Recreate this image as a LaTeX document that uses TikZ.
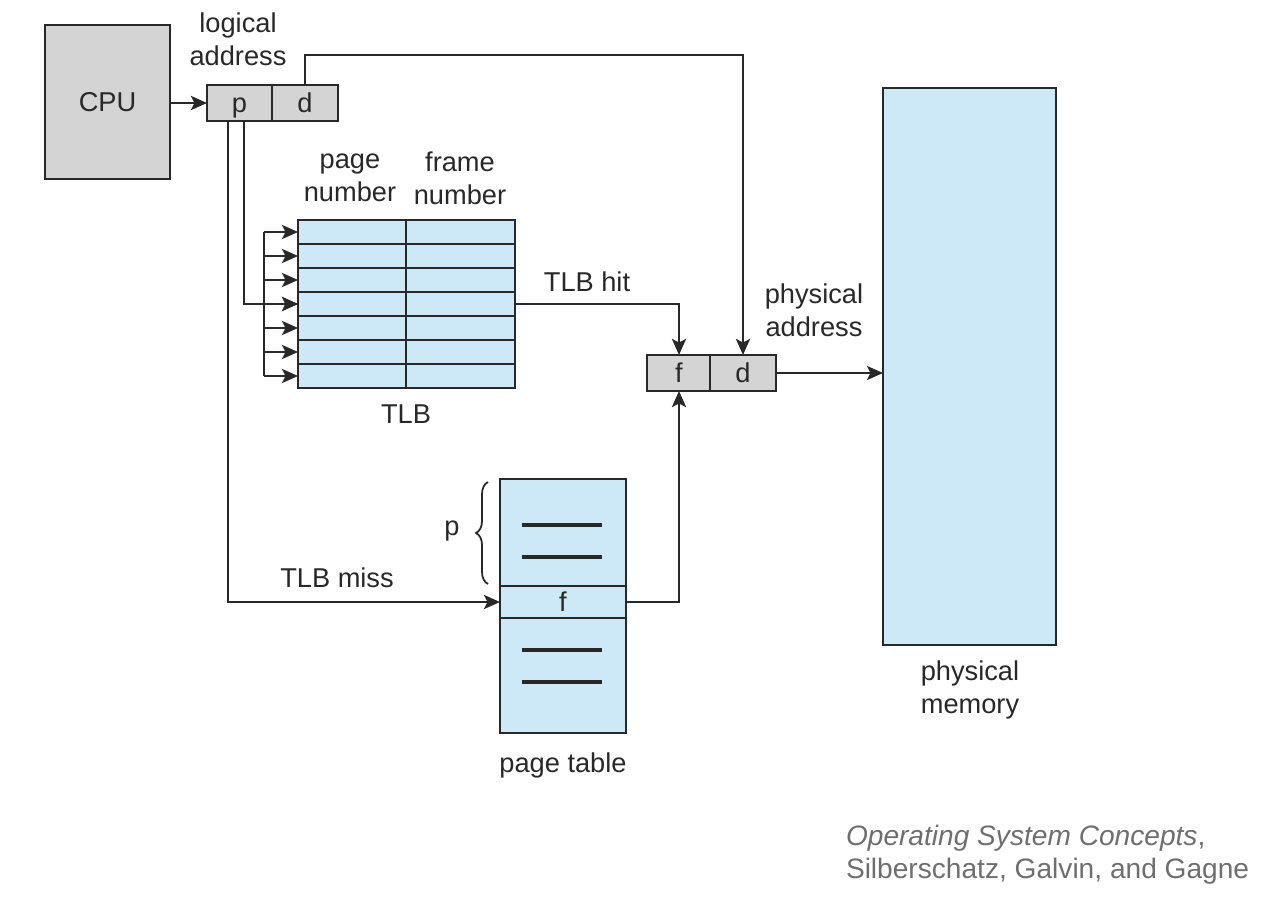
\documentclass[tikz,border=0pt]{standalone}
\usepackage{fontspec}
\setmainfont{Liberation Sans}
\usetikzlibrary{arrows.meta,decorations.pathreplacing}
\definecolor{boxgray}{RGB}{212,212,212}
\definecolor{lblue}{RGB}{205,232,247}
\definecolor{ink}{RGB}{40,40,40}
\definecolor{capgray}{RGB}{110,110,110}
\begin{document}
\begin{tikzpicture}[x=0.02cm,y=-0.02cm,
  every node/.style={font=\fontsize{15.5}{18.7}\selectfont, text=ink, inner sep=0pt, outer sep=0pt},
  boxtext/.style={text height=13pt, text depth=2pt},
  graybox/.style={draw=ink, line width=1.3pt, fill=boxgray, boxtext},
  bluebox/.style={draw=ink, line width=1.3pt, fill=lblue},
  arr/.style={draw=ink, line width=1.6pt, -{Stealth[length=3.2mm,width=2.8mm,inset=0.7mm]}},
  wire/.style={draw=ink, line width=1.6pt},
  lbl/.style={align=center}
]
\useasboundingbox (0,0) rectangle (1268,902);

% CPU
\node[graybox, minimum width=2.5cm, minimum height=3.08cm] (cpu) at (107.5,102) {CPU};

% logical address
\node[graybox, minimum width=1.3cm, minimum height=0.72cm] (lp) at (239.5,103) {p};
\node[graybox, minimum width=1.32cm, minimum height=0.72cm] (ld) at (305,103) {d};
\node[lbl] (lalabel) at (238,39) {logical\\address};

% TLB
\foreach \i in {1,...,7}{
  \node[bluebox, minimum width=4.34cm, minimum height=0.48cm] (r\i) at (406.5,{232+24*(\i-1)}) {};
}
\coordinate (divtop) at (406,220);
\coordinate (divbot) at (406,388);
\draw[draw=ink, line width=1.3pt] (divtop) -- (divbot);
\node[lbl] (pnlabel) at (350,178) {page\\number};
\node[lbl] (fnlabel) at (460,178) {frame\\number};
\node (tlblabel) at (406,414) {TLB};

% bus into TLB
\coordinate (busx) at (264,0);
\draw[wire] (r1.west -| busx) -- (r7.west -| busx);
\foreach \i in {1,...,7}{
  \draw[arr] (r\i.west -| busx) -- (r\i.west);
}

% physical address
\node[graybox, minimum width=1.28cm, minimum height=0.72cm] (af) at (679,373) {f};
\node[graybox, minimum width=1.32cm, minimum height=0.72cm] (ad) at (743,373) {d};
\node[lbl] (palabel) at (814,310) {physical\\address};

% physical memory
\node[bluebox, minimum width=3.46cm, minimum height=11.14cm] (mem) at (969.5,366.5) {};
\node[lbl] (pmlabel) at (970,690) {physical\\memory};

% page table
\node[bluebox, minimum width=2.52cm, minimum height=5.08cm] (pt) at (563,606) {};
\node[bluebox, boxtext, minimum width=2.52cm, minimum height=0.64cm] (pf) at (563,602) {f};
\coordinate (l1a) at (522,525); \coordinate (l1b) at (602,525);
\coordinate (l2a) at (522,557); \coordinate (l2b) at (602,557);
\coordinate (l3a) at (522,650); \coordinate (l3b) at (602,650);
\coordinate (l4a) at (522,682); \coordinate (l4b) at (602,682);
\draw[wire, line width=1.8pt] (l1a) -- (l1b);
\draw[wire, line width=1.8pt] (l2a) -- (l2b);
\draw[wire, line width=1.8pt] (l3a) -- (l3b);
\draw[wire, line width=1.8pt] (l4a) -- (l4b);
\node (ptlabel) at (563,765) {page table};

% brace
\coordinate (bra) at (488,584);
\coordinate (brb) at (488,482);
\draw[draw=ink, line width=1pt, decorate, decoration={brace, amplitude=0.24cm}] (bra) -- (brb);
\node (plabel) at (452,531) {p};

% d line from logical to physical address
\coordinate (dcorner) at (743,55);
\draw[arr] (ld.north) |- (dcorner) -- (ad.north);

% CPU to logical address
\draw[arr] (cpu.east |- lp) -- (lp.west);

% TLB lookup (p to row)
\coordinate (hx) at (244,304);
\draw[arr] (lp.south -| hx) -- (hx) -- (r4.west);

% TLB miss
\coordinate (mx) at (228,602);
\draw[arr] (lp.south -| mx) -- (mx) -- (pf.west);
\node (misslabel) at (337,578) {TLB miss};

% TLB hit
\draw[arr] (r4.east) -| (af.north);
\node (hitlabel) at (587,282) {TLB hit};

% page table to frame
\draw[arr] (pf.east) -| (af.south);

% physical address to memory
\draw[arr] (ad.east) -- (mem.west |- ad.east);

% caption
\node[anchor=west, align=left, text=capgray, font=\fontsize{16}{19}\selectfont] (cap) at (846,855) {\textit{Operating System Concepts},\\Silberschatz, Galvin, and Gagne};
\end{tikzpicture}
\end{document}
